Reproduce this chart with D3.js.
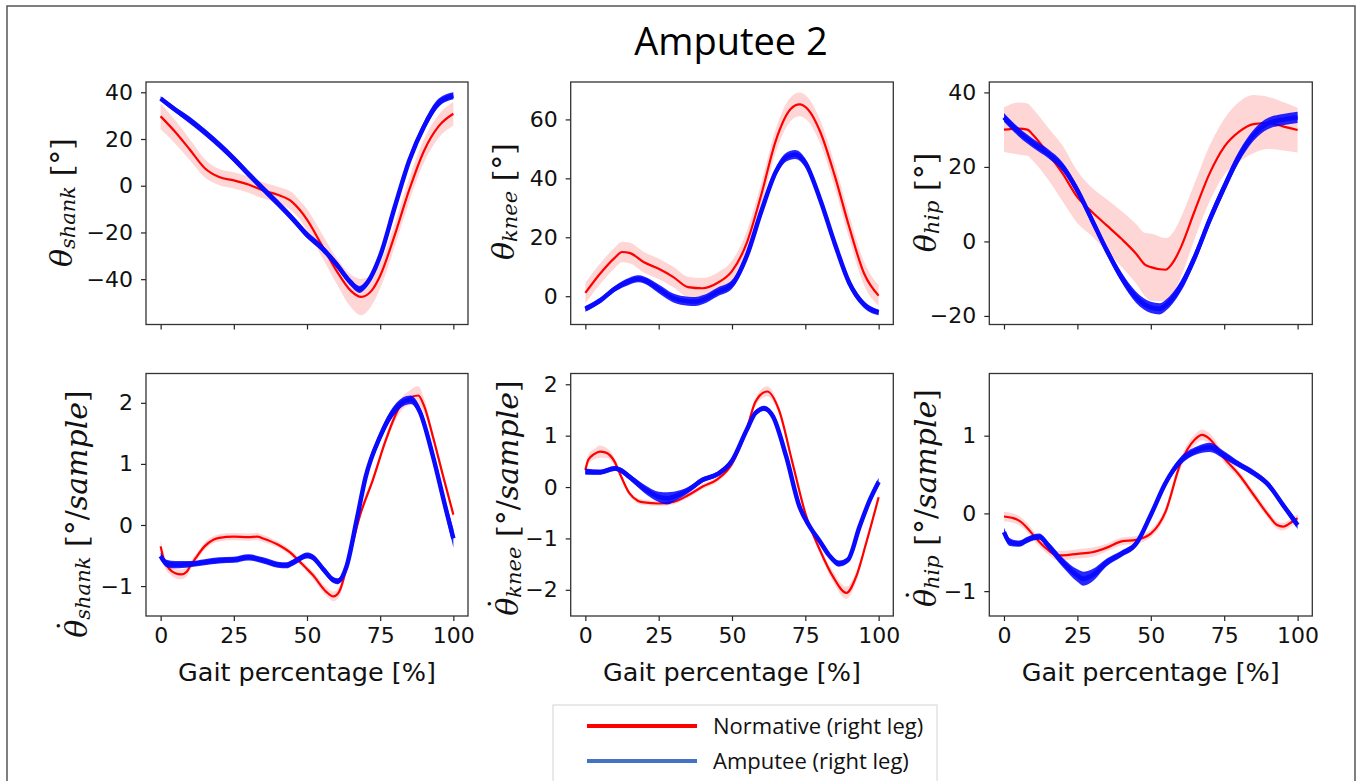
<!DOCTYPE html>
<html>
<head>
<meta charset="utf-8">
<script src="https://cdn.jsdelivr.net/npm/d3@7"></script>
<style>
  body { margin: 0; background: #fff; }
  svg { display: block; }
</style>
</head>
<body>
<div id="chart"></div>
<script>
const width = 1360, height = 781;

// each row: [gait %, mean, std]
const shankNorm = [[0,29.7,5.5],[5,23,5],[10,15.4,4.5],[15,7.6,4],[20,3.7,3.5],[25,2.3,3.5],[30,0.5,3.5],[35,-2,3.5],[40,-3.9,3.5],[45,-7,4],[47.5,-10.3,4],[50,-14.5,4.5],[55,-25.3,5],[60,-36.2,5.5],[65,-45,7],[68.5,-47.6,7.8],[72,-45,6.5],[75,-38.5,5.5],[80,-21,5],[85,-1.5,5],[90,15,5],[95,25.5,5],[100,30.8,5]];
const shankAmp = [[0,37.3,1],[5,32.5,1.2],[10,28,1.5],[15,23,1.5],[20,17.5,1.5],[25,11.5,1.5],[30,5,1.5],[35,-1.3,1.5],[40,-7.5,1.5],[45,-14,1.5],[50,-21,1.5],[55,-26.5,1.5],[60,-33.5,1.5],[65,-41.5,1.5],[68,-44.4,1.5],[70,-42.5,1.5],[75,-30,1.8],[80,-9,2],[85,11,2],[90,25.5,2],[95,35.5,1.8],[100,38.5,1.5]];

const kneeNorm = [[0,1.1,3.5],[5,7.6,3.5],[10,13,3.5],[12.5,15,3.5],[15,14.7,3.5],[20,11.5,3.5],[25,9.3,3.5],[30,6.5,3.5],[35,3.1,3.5],[40,2.7,3.5],[45,4.5,3.5],[50,8.5,3.5],[55,18,4],[60,34.5,4],[65,53,4],[70,63.5,4],[73,65.1,4],[76,63.3,4],[80,56,4],[85,41,4],[90,23.4,4],[95,7.8,4],[100,0.2,3.5]];
const kneeAmp = [[0,-4.3,1],[5,-1.5,1],[10,2.5,1],[15,5.1,1.2],[18,5.9,1.2],[20,5.5,1.2],[25,2.5,1.5],[30,-0.6,1.5],[35,-1.7,1.5],[37.5,-1.8,1.5],[40,-1.2,1.5],[45,1.4,1.5],[50,4,1.5],[55,13.6,1.5],[60,28.8,1.5],[65,42.3,1.5],[68.5,47.2,1.5],[71.5,48.1,1.5],[75,45.2,1.5],[80,33,1.5],[85,18,1.5],[90,4.5,1.5],[95,-2.8,1.2],[100,-5.5,1]];

const hipNorm = [[0,30,6],[5,30.3,7],[8,30,7],[10,28.5,7],[15,23.6,7],[20,18.2,7.5],[25,11.9,7],[30,7.9,6.5],[35,4.3,7],[40,0.7,7.5],[45,-3.3,8],[48,-6.2,8.5],[50,-6.9,9],[55,-7.6,8.5],[58,-5.1,8],[60,-2,8],[65,8.3,7.5],[70,18.2,7.5],[75,25.4,7.5],[80,29.4,8],[85,31.5,7.8],[90,31.8,7],[95,30.9,6.5],[100,29.9,6]];
const hipAmp = [[0,33.3,1.2],[5,29.4,1.2],[10,26.3,1.2],[15,23.6,1.2],[20,20,1.2],[25,13.7,1.2],[30,5.7,1.2],[35,-2.4,1.2],[40,-9.6,1.3],[45,-15,1.5],[50,-17.7,1.5],[53,-18.1,1.5],[55,-17.2,1.5],[60,-12.3,1.5],[65,-4.2,1.5],[70,5.7,1.5],[75,14.6,1.5],[80,22.7,1.5],[85,28.5,1.5],[90,31.7,1.5],[95,32.7,1.5],[100,33.3,1.5]];

const shankVelNorm = [[0,-0.35,0.1],[1,-0.55,0.1],[3,-0.72,0.08],[5,-0.79,0.08],[7,-0.81,0.08],[9,-0.76,0.08],[10,-0.68,0.07],[12,-0.54,0.06],[15,-0.35,0.06],[18,-0.24,0.06],[20,-0.21,0.06],[25,-0.19,0.06],[30,-0.2,0.06],[33,-0.19,0.06],[35,-0.22,0.06],[40,-0.32,0.05],[45,-0.48,0.05],[47.5,-0.6,0.05],[50,-0.72,0.05],[52,-0.82,0.06],[56.5,-1.09,0.07],[59,-1.17,0.08],[61,-1.09,0.08],[64.5,-0.51,0.07],[68,0.14,0.06],[72.5,0.74,0.06],[77,1.4,0.07],[81.5,1.92,0.1],[85,2.08,0.12],[88,2.12,0.15],[90,1.95,0.12],[93,1.45,0.08],[96.5,0.8,0.06],[100,0.17,0.05]];
const shankVelAmp = [[0,-0.51,0.06],[2,-0.63,0.06],[5,-0.65,0.06],[10,-0.64,0.05],[15,-0.61,0.05],[20,-0.58,0.05],[25,-0.57,0.05],[30,-0.53,0.05],[35,-0.58,0.05],[40,-0.65,0.05],[43,-0.66,0.05],[45,-0.62,0.05],[47.5,-0.55,0.05],[50,-0.5,0.05],[52,-0.53,0.05],[55.5,-0.72,0.05],[59,-0.9,0.05],[60.5,-0.92,0.05],[63.5,-0.68,0.05],[67,0.09,0.06],[70,0.78,0.07],[75,1.45,0.08],[79.5,1.86,0.08],[84,2.04,0.07],[85.5,2.05,0.07],[88.5,1.86,0.08],[93,1.13,0.1],[97.5,0.25,0.12],[100,-0.22,0.15]];

const kneeVelNorm = [[0,0.33,0.08],[1,0.53,0.1],[3,0.64,0.1],[5,0.69,0.12],[7,0.67,0.1],[10,0.49,0.08],[12,0.23,0.06],[15,-0.12,0.05],[18,-0.27,0.05],[20,-0.3,0.05],[25,-0.32,0.05],[30,-0.29,0.05],[35,-0.16,0.05],[40,0.01,0.05],[45,0.15,0.05],[50,0.45,0.05],[55,1.12,0.07],[58,1.66,0.08],[62,1.86,0.1],[66,1.5,0.08],[70.5,0.5,0.06],[75,-0.51,0.06],[80,-1.23,0.07],[84.5,-1.75,0.1],[89,-2.06,0.12],[92.3,-1.75,0.1],[95.7,-1.1,0.07],[100,-0.2,0.05]];
const kneeVelAmp = [[0,0.3,0.06],[5,0.29,0.05],[10,0.36,0.05],[12,0.33,0.05],[15,0.2,0.06],[20,-0.03,0.08],[25,-0.19,0.1],[28,-0.22,0.12],[30,-0.19,0.1],[35,-0.06,0.06],[40,0.14,0.05],[45,0.25,0.05],[50,0.51,0.05],[55,1.11,0.05],[58,1.44,0.05],[61,1.53,0.05],[64,1.37,0.05],[68.5,0.59,0.05],[73,-0.38,0.05],[76.5,-0.77,0.05],[80,-1.06,0.05],[83,-1.32,0.05],[86.5,-1.49,0.06],[89.5,-1.42,0.06],[93.5,-0.77,0.07],[97,-0.25,0.08],[100,0.1,0.08]];

const hipVelNorm = [[0,-0.04,0.06],[3,-0.06,0.06],[5,-0.09,0.06],[8,-0.19,0.06],[10,-0.28,0.06],[15,-0.47,0.06],[18,-0.54,0.06],[20,-0.54,0.06],[25,-0.52,0.06],[30,-0.5,0.06],[35,-0.44,0.05],[40,-0.36,0.05],[45,-0.34,0.05],[50,-0.26,0.05],[55,0.02,0.06],[60,0.63,0.07],[65,0.95,0.07],[67.5,1.01,0.07],[70,0.96,0.07],[75,0.71,0.06],[80,0.5,0.05],[85,0.24,0.05],[90,-0.02,0.05],[93,-0.15,0.05],[95,-0.17,0.05],[98,-0.11,0.05],[100,-0.06,0.05]];
const hipVelAmp = [[0,-0.24,0.06],[2,-0.37,0.05],[5,-0.39,0.04],[8,-0.34,0.04],[10,-0.31,0.04],[12,-0.3,0.04],[15,-0.41,0.05],[20,-0.63,0.06],[25,-0.8,0.08],[27,-0.84,0.09],[30,-0.8,0.08],[35,-0.63,0.05],[40,-0.52,0.04],[45,-0.39,0.04],[50,-0.02,0.04],[55,0.39,0.04],[60,0.67,0.05],[65,0.8,0.05],[70,0.85,0.06],[75,0.75,0.05],[80,0.63,0.04],[85,0.52,0.04],[90,0.37,0.04],[95,0.11,0.04],[100,-0.15,0.05]];

const gaitTicks = [0, 25, 50, 75, 100];
const shankTicks = [-40, -20, 0, 20, 40];
const kneeTicks = [0, 20, 40, 60];
const hipTicks = [-20, 0, 20, 40];
const shankVelTicks = [-1, 0, 1, 2];
const kneeVelTicks = [-2, -1, 0, 1, 2];
const hipVelTicks = [-1, 0, 1];

const title = "Amputee 2";
const xLabel = "Gait percentage [%]";
const legendLabels = ["Normative (right leg)", "Amputee (right leg)"];

// layout
const cols = [[146, 468], [570.7, 893.3], [989.3, 1312.3]];
const rows = [[82, 324.5], [373.5, 616]];
const labelX = [[61, 503, 925], [76, 507, 925]];
const labelY = [[202.5, 201.5, 202.5], [514, 498, 498]];

const panels = [
  { col: 0, row: 0, norm: shankNorm, amp: shankAmp, dom: [-59.4, 44.4], ticks: shankTicks, sub: "shank", vel: false },
  { col: 1, row: 0, norm: kneeNorm, amp: kneeAmp, dom: [-9.6, 72.7], ticks: kneeTicks, sub: "knee", vel: false },
  { col: 2, row: 0, norm: hipNorm, amp: hipAmp, dom: [-22.3, 42.8], ticks: hipTicks, sub: "hip", vel: false },
  { col: 0, row: 1, norm: shankVelNorm, amp: shankVelAmp, dom: [-1.49, 2.48], ticks: shankVelTicks, sub: "shank", vel: true },
  { col: 1, row: 1, norm: kneeVelNorm, amp: kneeVelAmp, dom: [-2.51, 2.21], ticks: kneeVelTicks, sub: "knee", vel: true },
  { col: 2, row: 1, norm: hipVelNorm, amp: hipVelAmp, dom: [-1.32, 1.80], ticks: hipVelTicks, sub: "hip", vel: true }
];

const svg = d3.select('#chart')
  .append('svg')
  .attr('width', width)
  .attr('height', height)
  .attr('viewBox', `0 0 ${width} ${height}`);

svg.append('rect')
  .attr('width', width).attr('height', height).attr('fill', '#fff');

// outer frame
svg.append('rect')
  .attr('x', 7).attr('y', 6)
  .attr('width', 1348).attr('height', 800)
  .attr('fill', 'none')
  .attr('stroke', '#555')
  .attr('stroke-width', 1.5);

svg.append('text')
  .text(title)
  .attr('x', 731).attr('y', 55)
  .attr('text-anchor', 'middle')
  .attr('font-family', '"Open Sans", sans-serif')
  .attr('font-size', 38)
  .attr('fill', '#000');

const fmt = d => d < 0 ? '\u2212' + Math.abs(d) : String(d);
const tickFont = '"DejaVu Sans", sans-serif';
const mathFont = '"DejaVu Serif", serif';

panels.forEach(p => {
  const [x0, x1] = cols[p.col];
  const [y0, y1] = rows[p.row];
  const x = d3.scaleLinear().domain([-5, 105]).range([x0, x1]);
  const y = d3.scaleLinear().domain(p.dom).range([y1, y0]);

  const g = svg.append('g');
  const clipId = `clip-${p.col}-${p.row}`;
  g.append('clipPath').attr('id', clipId)
    .append('rect').attr('x', x0).attr('y', y0).attr('width', x1 - x0).attr('height', y1 - y0);
  const plot = g.append('g').attr('clip-path', `url(#${clipId})`);

  const band = d3.area()
    .x(d => x(d[0]))
    .y0(d => y(d[1] - d[2]))
    .y1(d => y(d[1] + d[2]))
    .curve(d3.curveMonotoneX);
  const line = d3.line()
    .x(d => x(d[0]))
    .y(d => y(d[1]))
    .curve(d3.curveMonotoneX);

  plot.append('path').datum(p.norm)
    .attr('d', band).attr('fill', '#ff0000').attr('fill-opacity', 0.16);
  plot.append('path').datum(p.norm)
    .attr('d', line).attr('fill', 'none').attr('stroke', '#ff0000').attr('stroke-width', 2.2);
  plot.append('path').datum(p.amp)
    .attr('d', band).attr('fill', '#0000ff').attr('fill-opacity', 0.85);
  plot.append('path').datum(p.amp)
    .attr('d', line).attr('fill', 'none').attr('stroke', '#0a0aff').attr('stroke-width', 4.5);

  // axes
  const xAxis = d3.axisBottom(x).tickValues(gaitTicks).tickSize(5).tickPadding(6)
    .tickFormat(p.row === 1 ? fmt : '');
  const gx = g.append('g').attr('transform', `translate(0,${y1})`).call(xAxis);
  const yAxis = d3.axisLeft(y).tickValues(p.ticks).tickSize(5).tickPadding(8).tickFormat(fmt);
  const gy = g.append('g').attr('transform', `translate(${x0},0)`).call(yAxis);
  [gx, gy].forEach(a => {
    a.select('.domain').remove();
    a.selectAll('line').attr('stroke', '#222').attr('stroke-width', 1.2);
    a.selectAll('text').attr('font-family', tickFont).attr('font-size', 22).attr('fill', '#111');
  });

  g.append('rect')
    .attr('x', x0).attr('y', y0).attr('width', x1 - x0).attr('height', y1 - y0)
    .attr('fill', 'none').attr('stroke', '#333').attr('stroke-width', 1.3);

  if (p.row === 1) {
    g.append('text')
      .text(xLabel)
      .attr('x', (x0 + x1) / 2).attr('y', 681)
      .attr('text-anchor', 'middle')
      .attr('font-family', tickFont)
      .attr('font-size', 25.5)
      .attr('fill', '#111');
  }

  // y label (mathtext-like)
  const lx = labelX[p.row][p.col];
  const ly = labelY[p.row][p.col];
  const labelTransform = `translate(${lx},${ly}) rotate(-90)`;
  const t = g.append('text')
    .attr('transform', labelTransform)
    .attr('text-anchor', 'middle')
    .attr('dominant-baseline', 'central')
    .attr('font-family', mathFont)
    .attr('font-size', 30)
    .attr('fill', '#111');
  t.append('tspan').attr('font-style', 'italic').text('\u03B8');
  t.append('tspan').attr('font-style', 'italic').attr('font-size', 21).attr('dy', 7).text(p.sub);
  if (p.vel) {
    t.append('tspan').attr('dy', -7).text('\u00A0[\u00B0/');
    t.append('tspan').attr('font-style', 'italic').text('sample');
    t.append('tspan').text(']');
    // time-derivative dot above theta
    const s = t.node().getStartPositionOfChar(0);
    const e = t.node().getEndPositionOfChar(0);
    g.append('text')
      .attr('transform', labelTransform)
      .attr('x', (s.x + e.x) / 2 + 3)
      .attr('y', s.y)
      .attr('dy', -7)
      .attr('text-anchor', 'middle')
      .attr('dominant-baseline', 'central')
      .attr('font-family', mathFont)
      .attr('font-size', 30)
      .attr('fill', '#111')
      .text('\u02D9');
  } else {
    t.append('tspan').attr('dy', -7).text('\u00A0[\u00B0]');
  }
});

// legend
const legend = svg.append('g');
legend.append('rect')
  .attr('x', 553).attr('y', 705).attr('width', 384).attr('height', 100)
  .attr('fill', '#fff').attr('stroke', '#d4d4d4').attr('stroke-width', 1);
const legendColors = ['#ff0000', '#4472c4'];
legend.selectAll('line.key')
  .data(legendLabels)
  .join('line')
  .attr('class', 'key')
  .attr('x1', 587).attr('x2', 697)
  .attr('y1', (d, i) => 726 + i * 35)
  .attr('y2', (d, i) => 726 + i * 35)
  .attr('stroke', (d, i) => legendColors[i])
  .attr('stroke-width', 4);
legend.selectAll('text.key')
  .data(legendLabels)
  .join('text')
  .attr('class', 'key')
  .attr('x', 713)
  .attr('y', (d, i) => 726 + i * 35)
  .attr('dy', '0.35em')
  .attr('font-family', '"Open Sans", sans-serif')
  .attr('font-size', 22)
  .attr('fill', '#111')
  .text(d => d);
</script>
</body>
</html>
